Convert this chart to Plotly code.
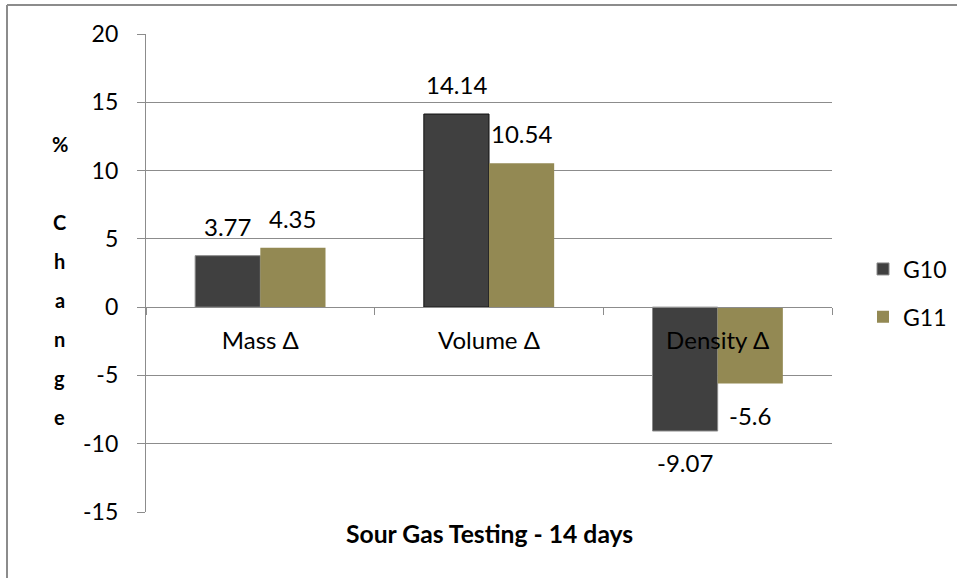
import plotly.graph_objects as go

categories = ["Mass Δ", "Volume Δ", "Density Δ"]
g10_values = [3.77, 14.14, -9.07]
g11_values = [4.35, 10.54, -5.6]
series_names = ["G10", "G11"]
y_tick_values = [-15, -10, -5, 0, 5, 10, 15, 20]
y_tick_labels = ["-15", "-10", "-5", "0", "5", "10", "15", "20"]
y_title_letters = ["%", "", "C", "h", "a", "n", "g", "e"]
x_title = "Sour Gas Testing - 14 days"

FONT = "Lato, 'Open Sans', sans-serif"
W, H = 957, 578
ML, MT = 146, 34
PR, PB = 832, 512
MR, MB = W - PR, H - PB
PW, PH = PR - ML, PB - MT
YMIN, YMAX = -15, 20
GRID = "#8c8c8c"

def px_x(px):
    return (px - ML) / PW

def px_y(py):
    return (PB - py) / PH

fig = go.Figure()
fig.add_trace(go.Bar(x=categories, y=g10_values, name=series_names[0], legendgroup="a",
                     marker=dict(color="#404040", line=dict(color=["#8a8a8a", "#111111", "#8a8a8a"], width=1))))
fig.add_trace(go.Bar(x=categories, y=g11_values, name=series_names[1], legendgroup="b",
                     marker=dict(color="#938953", line=dict(width=0))))

annotations = []
cat_px = PW / len(categories)
bar_px = cat_px / 3.5
for vals, sh in ((g10_values, -bar_px / 2), (g11_values, bar_px / 2)):
    for c, v in zip(categories, vals):
        annotations.append(dict(
            x=c, y=v, xref="x", yref="y", text=f"{v:g}", showarrow=False,
            xshift=sh, yshift=(13 if v >= 0 else -15),
            yanchor=("bottom" if v >= 0 else "top"),
            font=dict(family=FONT, size=24, color="black")))

for i, letter in enumerate(y_title_letters):
    if not letter:
        continue
    annotations.append(dict(
        x=px_x(60), y=px_y(144 + 39 * i), xref="paper", yref="paper",
        text=f"<b>{letter}</b>", showarrow=False, xanchor="center", yanchor="middle",
        font=dict(family=FONT, size=20, color="black")))

annotations.append(dict(
    x=px_x(489), y=px_y(533), xref="paper", yref="paper", text=f"<b>{x_title}</b>",
    showarrow=False, xanchor="center", yanchor="middle",
    font=dict(family=FONT, size=24.7, color="black")))

border = dict(color="#8c8c8c", width=2)
fig.update_layout(
    width=W, height=H,
    margin=dict(l=ML, r=MR, t=MT, b=MB, autoexpand=False),
    paper_bgcolor="white", plot_bgcolor="white",
    barmode="group", bargap=0.43, bargroupgap=0,
    font=dict(family=FONT, size=23, color="black"),
    showlegend=True,
    legend=dict(x=px_x(863), y=px_y(293), xanchor="left", yanchor="middle",
                traceorder="grouped", tracegroupgap=15,
                font=dict(family=FONT, size=23, color="black"),
                bgcolor="rgba(0,0,0,0)"),
    annotations=annotations,
    shapes=[
        dict(type="line", xref="paper", yref="paper",
             x0=px_x(7), x1=px_x(7), y0=px_y(H), y1=px_y(5), line=border, layer="below"),
        dict(type="line", xref="paper", yref="paper",
             x0=px_x(7), x1=px_x(W), y0=px_y(5), y1=px_y(5), line=border, layer="below"),
    ],
)

fig.update_yaxes(range=[YMIN, YMAX], tickvals=y_tick_values, ticktext=y_tick_labels, showgrid=True,
                 gridcolor=GRID, gridwidth=1.3, showline=True, linecolor=GRID, linewidth=1.3,
                 ticks="outside", ticklen=8, tickcolor=GRID, tickwidth=1.3,
                 ticklabelstandoff=14, zeroline=False,
                 tickfont=dict(family=FONT, size=23, color="black"))
fig.update_xaxes(anchor="free", position=(0 - YMIN) / (YMAX - YMIN),
                 showline=True, linecolor=GRID, linewidth=1.3,
                 ticks="outside", tickson="boundaries", ticklen=7, tickcolor=GRID, tickwidth=1.3,
                 ticklabelstandoff=12, showgrid=False,
                 tickfont=dict(family=FONT, size=24, color="black"))

fig.write_html("out.html", config={"displayModeBar": False},
               post_script=("document.documentElement.style.overflow='hidden';"
                            "document.body.style.margin='0';document.body.style.padding='0';"
                            "document.body.style.overflow='hidden';"))
